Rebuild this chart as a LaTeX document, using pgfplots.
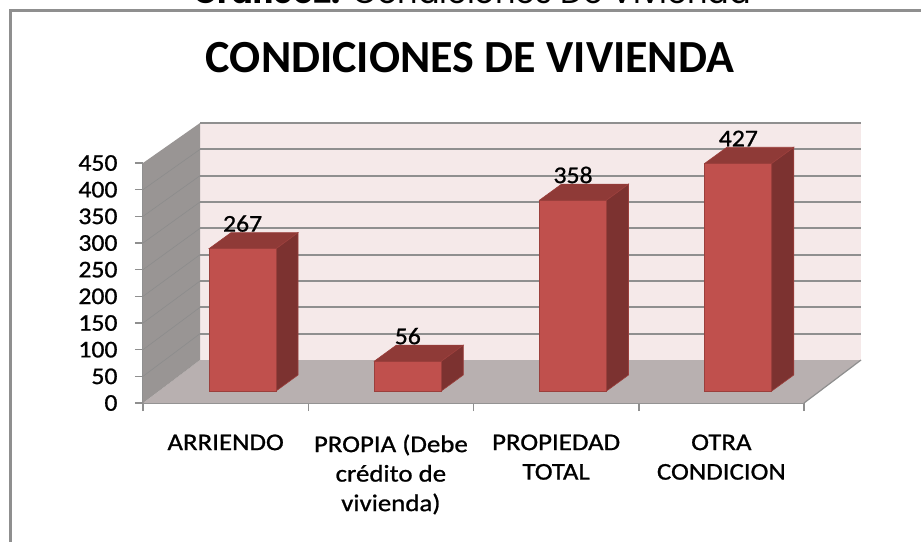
\documentclass[border=0pt]{standalone}
\usepackage{pgfplots}
\pgfplotsset{compat=1.18}
\usepackage{fontspec}
\setmainfont{Carlito}
\newfontfamily\capfont{Poppins}
\newfontfamily\lab[FakeBold=0.9,FakeStretch=1.07]{Carlito}
\newfontfamily\labx[FakeBold=0.9,FakeStretch=1.12]{Carlito}
\definecolor{wallback}{HTML}{F5E9E9}
\definecolor{wallleft}{HTML}{999594}
\definecolor{floorc}{HTML}{B8B0B0}
\definecolor{gridc}{HTML}{8F8F8F}
\definecolor{barf}{HTML}{C0504D}
\definecolor{bare}{HTML}{9B3F3C}
\definecolor{bart}{HTML}{8F3A37}
\definecolor{bars}{HTML}{7C3230}
\begin{document}
\begin{tikzpicture}[x=1pt,y=1pt]
\useasboundingbox (0,0) rectangle (921,542);
\fill[white] (0,0) rectangle (921,542);
\begin{axis}[
  at={(143pt,139pt)}, anchor=origin,
  x=165.25pt, y=0.5333pt,
  xmin=0, xmax=4, ymin=0, ymax=450,
  clip=false,
  axis x line*=bottom, axis y line*=left,
  axis line style={gridc,line width=1.5pt,-},
  tick style={gridc,line width=1.5pt},
  tick align=outside, major tick length=8pt, minor tick length=8pt,
  major x tick style={draw=none},
  xtick={0.5,1.5,2.5,3.5},
  minor xtick={0,1,2,3,4},
  xticklabels={ARRIENDO,{PROPIA (Debe\\crédito de\\vivienda)},{PROPIEDAD\\TOTAL},{OTRA\\CONDICION}},
  xticklabel style={font=\labx\fontsize{24}{29.5}\selectfont,align=center,yshift=-20pt,text=black},
  ytick={0,50,...,450},
  yticklabel style={font=\lab\fontsize{24}{28}\selectfont,xshift=-14pt,text=black},
  /pgf/number format/assume math mode=true,
]
% walls and floor
\addplot[fill=wallback,draw=none,forget plot] coordinates {(0.345,80.6)(4.345,80.6)(4.345,525)(0.345,525)} --cycle;
\addplot[fill=floorc,draw=none,forget plot] coordinates {(0,0)(4,0)(4.345,80.6)(0.345,80.6)} --cycle;
\addplot[fill=wallleft,draw=none,forget plot] coordinates {(0,0)(0.345,80.6)(0.345,525)(0,450)} --cycle;
% back-wall grid
\addplot[gridc,line width=1.8pt,forget plot,unbounded coords=jump] coordinates {
 (0.345,130)(4.345,130) (0.345,nan)
 (0.345,179.4)(4.345,179.4) (0.345,nan)
 (0.345,278.1)(4.345,278.1) (0.345,nan)
 (0.345,327.5)(4.345,327.5) (0.345,nan)
 (0.345,376.9)(4.345,376.9) (0.345,nan)
 (0.345,426.2)(4.345,426.2) (0.345,nan)
 (0.345,475.6)(4.345,475.6) (0.345,nan)
 (0.345,525)(4.345,525)};
\addplot[gridc,line width=2.8pt,forget plot] coordinates {(0.345,228.7)(4.345,228.7)};
% left-wall grid
\addplot[black!45,line width=0.6pt,forget plot,unbounded coords=jump] coordinates {
 (0,50)(0.345,130) (0,nan)
 (0,100)(0.345,179.4) (0,nan)
 (0,150)(0.345,228.7) (0,nan)
 (0,200)(0.345,278.1) (0,nan)
 (0,250)(0.345,327.5) (0,nan)
 (0,300)(0.345,376.9) (0,nan)
 (0,350)(0.345,426.2) (0,nan)
 (0,400)(0.345,475.6)};
% outer floor edge
\addplot[gridc,line width=1.2pt,forget plot] coordinates {(4,0)(4.345,80.6)};
\end{axis}
\begin{axis}[
  at={(143pt,151pt)}, anchor=origin,
  x=165.25pt, y=0.5333pt,
  xmin=0, xmax=4, ymin=0, ymax=450,
  clip=false, hide axis,
]
\addplot[fill=bars,draw=bare,line width=0.6pt] coordinates {(0.805,0)(0.938,30)(0.938,297)(0.805,267)} --cycle;
\addplot[fill=bart,draw=bare,line width=0.6pt] coordinates {(0.4,267)(0.533,297)(0.938,297)(0.805,267)} --cycle;
\addplot[fill=bars,draw=bare,line width=0.6pt] coordinates {(1.805,0)(1.938,30)(1.938,86)(1.805,56)} --cycle;
\addplot[fill=bart,draw=bare,line width=0.6pt] coordinates {(1.4,56)(1.533,86)(1.938,86)(1.805,56)} --cycle;
\addplot[fill=bars,draw=bare,line width=0.6pt] coordinates {(2.805,0)(2.938,30)(2.938,388)(2.805,358)} --cycle;
\addplot[fill=bart,draw=bare,line width=0.6pt] coordinates {(2.4,358)(2.533,388)(2.938,388)(2.805,358)} --cycle;
\addplot[fill=bars,draw=bare,line width=0.6pt] coordinates {(3.805,0)(3.938,30)(3.938,457)(3.805,427)} --cycle;
\addplot[fill=bart,draw=bare,line width=0.6pt] coordinates {(3.4,427)(3.533,457)(3.938,457)(3.805,427)} --cycle;
\addplot[ybar,bar width=66.9pt,bar shift=0pt,fill=barf,draw=bare,line width=0.8pt,
  nodes near coords,
  nodes near coords style={font=\lab\fontsize{24}{28}\selectfont,text=black,anchor=base,yshift=17pt,inner sep=0pt,
    /pgf/number format/assume math mode=true},
] coordinates {(0.6025,267)(1.6025,56)(2.6025,358)(3.6025,427)};
\end{axis}
% frame
\draw[gridc,line width=3pt] (921,531) -- (10.5,531) -- (10.5,0);
% titles
\node[anchor=base,inner sep=0pt,font=\fontsize{46}{50}\selectfont\bfseries] at (470,469) {CONDICIONES DE VIVIENDA};
\node[anchor=base,inner sep=0pt,font=\fontsize{32}{34}\selectfont\capfont] at (472,538) {\textbf{Gráfico2:} Condiciones De Vivienda};
\end{tikzpicture}
\end{document}
